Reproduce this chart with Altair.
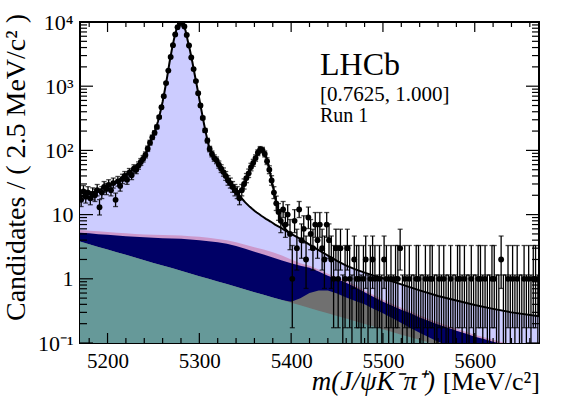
import altair as alt
import numpy as np
import pandas as pd

# ---------------------------------------------------------------------------
# Histogram: m(J/psi K- pi+) in 2.5 MeV bins from 5170 to 5670 MeV
# ---------------------------------------------------------------------------
mass_lo, mass_hi, bin_width = 5170.0, 5670.0, 2.5

counts = [
    17, 23, 19, 22, 18, 21, 20, 24, 13, 22,
    27, 25, 29, 24, 31, 17, 33, 28, 36, 40,
    35, 45, 41, 52, 50, 58, 66, 74, 85, 106,
    132, 160, 188, 232, 330, 470, 700, 1120, 1750, 2850,
    4350, 6400, 8300, 9650, 9750, 8500, 6300, 4300, 2800, 1850,
    1200, 780, 500, 320, 205, 142, 105, 88, 76, 70,
    60, 52, 46, 40, 34, 31, 27, 24, 22, 18,
    24, 30, 37, 44, 55, 64, 76, 92, 104, 101,
    88, 68, 50, 34, 22, 15, 11, 8, 12, 7,
    10, 5, 1, 8, 3, 12, 4, 6, 2, 9,
    5, 3, 7, 4, 7, 3, 2, 7, 4, 2,
    1, 3, 1, 3, 0, 1, 3, 1, 0, 2,
    1, 1, 0, 1, 2, 0, 1, 2, 1, 0,
    1, 0, 2, 1, 0, 1, 0, 1, 1, 3,
    0, 1, 0, 1, 0, 0, 1, 1, 0, 0,
    1, 0, 1, 1, 0, 0, 1, 0, 1, 0,
    0, 1, 0, 0, 1, 1, 0, 1, 0, 0,
    1, 0, 0, 1, 1, 0, 1, 0, 0, 1,
    1, 0, 0, 2, 0, 0, 1, 0, 1, 0,
    1, 0, 0, 1, 0, 1, 0, 1, 1, 0,
]

# 68% Poisson (Garwood) intervals for small counts
pois_lo = [0.0, 0.173, 0.708, 1.367, 2.086, 2.840, 3.620, 4.419, 5.232, 6.057, 6.891]
pois_hi = [1.148, 3.300, 4.638, 5.918, 7.163, 8.382, 9.584, 10.77, 11.95, 13.11, 14.27]

# ---------------------------------------------------------------------------
# Fit components (cumulative stack boundaries)
# ---------------------------------------------------------------------------
bkg_mass = list(range(5170, 5671, 10))
teal_top = [3.80, 3.46, 3.14, 2.86, 2.60, 2.36, 2.15, 1.95, 1.77, 1.61,
            1.47, 1.33, 1.21, 1.10, 1.00, 0.91, 0.83, 0.75, 0.68, 0.62,
            0.565, 0.513, 0.467, 0.425, 0.386, 0.351, 0.319, 0.290, 0.264, 0.240,
            0.218, 0.198, 0.180, 0.164, 0.149, 0.135, 0.123, 0.112, 0.102, 0.092,
            0.084, 0.076, 0.069, 0.063, 0.057, 0.052, 0.047, 0.043, 0.039, 0.035,
            0.032]
gray_top = [3.80, 3.46, 3.14, 2.86, 2.60, 2.36, 2.15, 1.95, 1.77, 1.61,
            1.47, 1.33, 1.21, 1.10, 1.00, 0.91, 0.83, 0.75, 0.68, 0.62,
            0.565, 0.513, 0.467, 0.44, 0.50, 0.60, 0.66, 0.66, 0.59, 0.51,
            0.45, 0.40, 0.34, 0.29, 0.245, 0.205, 0.172, 0.145, 0.123, 0.105,
            0.094, 0.083, 0.074, 0.066, 0.059, 0.054, 0.049, 0.045, 0.041, 0.037,
            0.034]
navy_top = [5.2, 5.1, 4.95, 4.85, 4.72, 4.6, 4.5, 4.42, 4.35, 4.3,
            4.25, 4.2, 4.1, 4.0, 3.85, 3.7, 3.5, 3.25, 2.95, 2.65,
            2.4, 2.15, 1.93, 1.75, 1.6, 1.48, 1.3, 1.12, 0.98, 0.87,
            0.74, 0.62, 0.52, 0.44, 0.38, 0.33, 0.29, 0.25, 0.22, 0.195,
            0.175, 0.155, 0.14, 0.125, 0.115, 0.105, 0.097, 0.09, 0.083, 0.077,
            0.071]
pink_top = [5.75, 5.62, 5.48, 5.36, 5.22, 5.1, 5.0, 4.92, 4.86, 4.82,
            4.78, 4.72, 4.62, 4.5, 4.35, 4.18, 3.98, 3.72, 3.4, 3.1,
            2.85, 2.6, 2.3, 2.0, 1.75, 1.6, 1.4, 1.2, 1.05, 0.93,
            0.79, 0.66, 0.56, 0.47, 0.41, 0.355, 0.31, 0.27, 0.235, 0.21,
            0.187, 0.166, 0.15, 0.134, 0.123, 0.112, 0.103, 0.096, 0.089, 0.082,
            0.076]

# B0 signal stacked on the backgrounds (total without the Bs peak)
sig_mass = [5170, 5180, 5190, 5200, 5210, 5220, 5230, 5235, 5240,
            5242.5, 5245, 5247.5, 5250, 5252.5, 5255, 5257.5, 5260, 5262.5, 5265,
            5267.5, 5270, 5272.5, 5275, 5277.5, 5280, 5282.5, 5285, 5287.5, 5290,
            5292.5, 5295, 5297.5, 5300, 5302.5, 5305, 5307.5, 5310, 5312.5, 5315,
            5317.5, 5320, 5325, 5330, 5335,
            5340, 5342.5, 5345, 5347.5, 5350, 5352.5, 5355, 5357.5, 5360, 5362.5,
            5365, 5367.5, 5370, 5372.5, 5375, 5377.5, 5380, 5382.5, 5385, 5387.5,
            5390, 5392.5, 5395,
            5400, 5410, 5420, 5430, 5440, 5450, 5460, 5470, 5480, 5490, 5500,
            5520, 5540, 5560, 5580, 5600, 5620, 5640, 5670]
sig_top = [19, 21, 24, 27.5, 33, 42, 55, 64, 78,
           93, 121, 147, 179, 218, 285, 395, 573, 890, 1410,
           2340, 3680, 5500, 7600, 9100, 9900, 9500, 7300, 5000, 3500,
           2340, 1510, 980, 630, 405, 262, 176, 122, 98, 84,
           75, 67, 51, 38, 29.5,
           23, 20.5, 18.5, 17, 15.5, 14.3, 13.2, 12.3, 11.5, 10.8,
           10.2, 9.6, 9.1, 8.6, 8.2, 7.8, 7.4, 7.0, 6.7, 6.4,
           6.1, 5.8, 5.5,
           5.0, 4.2, 3.4, 2.8, 2.3, 1.9, 1.6, 1.4, 1.25, 1.12, 1.02,
           0.82, 0.66, 0.54, 0.46, 0.39, 0.34, 0.30, 0.26]

# Total fit across the Bs peak
bs_mass = [5337.5, 5340, 5342.5, 5345, 5347.5, 5350, 5352.5, 5355, 5357.5, 5360,
           5362.5, 5365, 5367.5, 5370, 5372.5, 5375, 5377.5, 5380, 5382.5, 5385,
           5387.5, 5390, 5392.5, 5395, 5397.5]
bs_total = [26.2, 23.5, 22, 23, 27, 33, 40, 48, 57, 68,
            83, 98, 106, 99, 82, 61, 42, 28, 18.5, 12.5,
            9.0, 7.2, 6.3, 5.7, 5.25]

# Axis ticks and labels
x_tick_values = [5200, 5300, 5400, 5500, 5600]
y_tick_values = [0.1, 1, 10, 100, 1000, 10000]
y_tick_labels = ["10\u207b\u00b9", "1", "10", "10\u00b2", "10\u00b3", "10\u2074"]

# Colours of the stacked components
col_sig, col_pink, col_navy, col_gray, col_teal = "#ccccff", "#cc99cc", "#000066", "#707070", "#669999"

W, H = 459, 321
FONT = "Liberation Serif"
FLOOR = 0.05

# ---------------------------------------------------------------------------
# Tables
# ---------------------------------------------------------------------------
centers = mass_lo + bin_width * (np.arange(len(counts)) + 0.5)


def interval(n):
    if n < len(pois_lo):
        return pois_lo[n], pois_hi[n]
    s = np.sqrt(n + 0.25)
    return n + 0.5 - s, n + 0.5 + s


lo_hi = [interval(n) for n in counts]
hist = pd.DataFrame({
    "m": centers,
    "v": [float(n) for n in counts],
    "lo": [lo if n > 0 else FLOOR for (lo, _), n in zip(lo_hi, counts)],
    "hi": [hi for _, hi in lo_hi],
})
hist["m_l"] = hist["m"] - bin_width / 2
hist["m_r"] = hist["m"] + bin_width / 2
filled = hist[hist["v"] > 0]

caps = pd.concat([
    pd.DataFrame({"m": filled["m"], "v": filled["lo"]}),
    pd.DataFrame({"m": hist["m"], "v": hist["hi"]}),
])

bkg = pd.DataFrame({"m": bkg_mass, "teal": teal_top, "gray": gray_top,
                    "navy": navy_top, "pink": pink_top, "floor": FLOOR})
sig = pd.DataFrame({"m": sig_mass, "v": sig_top, "floor": FLOOR})
bs = pd.DataFrame({"m": bs_mass, "v": bs_total})

minor_x = [m for m in range(5180, 5670, 20) if m not in x_tick_values]
minor_y = [k * 10.0 ** d for d in range(-1, 4) for k in range(2, 10)]
xt_major = pd.DataFrame({"m": x_tick_values})
xt_minor = pd.DataFrame({"m": minor_x})
yt_major = pd.DataFrame({"v": y_tick_values})
yt_minor = pd.DataFrame({"v": minor_y})

# ---------------------------------------------------------------------------
# Shared scales / axes
# ---------------------------------------------------------------------------
xscale = alt.Scale(domain=[mass_lo, mass_hi], nice=False, zero=False)
yscale = alt.Scale(type="log", domain=[0.1, 10000], nice=False)

label_expr = "[" + ",".join("'" + s + "'" for s in y_tick_labels) + "][round(log(datum.value)/LN10)+1]"

xaxis = alt.Axis(values=x_tick_values, format="d", ticks=False, domain=False, grid=False,
                 labelFont=FONT, labelFontSize=21, labelPadding=7, labelColor="black",
                 labelFlush=False, labelOverlap=False, title=None)
yaxis = alt.Axis(values=y_tick_values, labelExpr=label_expr, ticks=False, domain=False,
                 grid=False, labelFont=FONT, labelFontSize=22, labelPadding=7,
                 labelColor="black", labelFlush=False, labelOverlap=False, title=None)


def X(f):
    return alt.X(f"{f}:Q", scale=xscale, axis=xaxis)


def Y(f):
    return alt.Y(f"{f}:Q", scale=yscale, axis=yaxis)


def band(col, color, data):
    return alt.Chart(data).mark_area(color=color, clip=True, opacity=1).encode(
        x=X("m"), y=Y(col), y2=alt.Y2("floor"))


layers = [
    band("v", col_sig, sig),
    band("pink", col_pink, bkg),
    band("navy", col_navy, bkg),
    band("gray", col_gray, bkg),
    band("teal", col_teal, bkg),
    alt.Chart(sig).mark_line(color="black", strokeWidth=2, clip=True).encode(x=X("m"), y=Y("v")),
    alt.Chart(bs).mark_line(color="black", strokeWidth=2, clip=True).encode(x=X("m"), y=Y("v")),
    # error bars
    alt.Chart(hist).mark_rule(color="black", strokeWidth=1.3, clip=True).encode(
        x=X("m"), y=Y("lo"), y2=alt.Y2("hi")),
    alt.Chart(caps).mark_tick(color="black", orient="horizontal", size=5, thickness=1.3,
                              clip=True).encode(x=X("m"), y=Y("v")),
    alt.Chart(filled).mark_rule(color="black", strokeWidth=1.3, clip=True).encode(
        x=X("m_l"), x2=alt.X2("m_r"), y=Y("v")),
    alt.Chart(filled).mark_circle(color="black", size=34, opacity=1, clip=True).encode(
        x=X("m"), y=Y("v")),
    # frame ticks, pointing inwards on all four sides
    alt.Chart(xt_major).mark_rule(color="black", strokeWidth=1.2).encode(
        x=X("m"), y=alt.value(H), y2=alt.value(H - 10)),
    alt.Chart(xt_minor).mark_rule(color="black", strokeWidth=1.2).encode(
        x=X("m"), y=alt.value(H), y2=alt.value(H - 5)),
    alt.Chart(xt_major).mark_rule(color="black", strokeWidth=1.2).encode(
        x=X("m"), y=alt.value(0), y2=alt.value(10)),
    alt.Chart(xt_minor).mark_rule(color="black", strokeWidth=1.2).encode(
        x=X("m"), y=alt.value(0), y2=alt.value(5)),
    alt.Chart(yt_major).mark_rule(color="black", strokeWidth=1.2).encode(
        y=Y("v"), x=alt.value(0), x2=alt.value(13)),
    alt.Chart(yt_minor).mark_rule(color="black", strokeWidth=1.2).encode(
        y=Y("v"), x=alt.value(0), x2=alt.value(7)),
    alt.Chart(yt_major).mark_rule(color="black", strokeWidth=1.2).encode(
        y=Y("v"), x=alt.value(W), x2=alt.value(W - 13)),
    alt.Chart(yt_minor).mark_rule(color="black", strokeWidth=1.2).encode(
        y=Y("v"), x=alt.value(W), x2=alt.value(W - 7)),
]


def label(text, x, y, size, **kw):
    return alt.Chart(pd.DataFrame({"t": [text]})).mark_text(
        font=FONT, fontSize=size, color="black", **kw).encode(
        x=alt.value(x), y=alt.value(y), text="t:N")


layers += [
    label("LHCb", 240, 53, 32, align="left", baseline="alphabetic"),
    label("[0.7625, 1.000]", 240, 79, 21, align="left", baseline="alphabetic"),
    label("Run 1", 240, 100, 20, align="left", baseline="alphabetic"),
    label("Candidates / ( 2.5 MeV/c\u00b2 )", -55, -8, 28, align="right",
          baseline="alphabetic", angle=270),
    label("[MeV/c\u00b2]", W + 1, 368, 26, align="right", baseline="alphabetic"),
    label("m(J/\u03c8K\u207b\u03c0\u207a)", W - 104, 368, 27, align="right",
          baseline="alphabetic", fontStyle="italic"),
]

chart = alt.layer(*layers).properties(
    width=W, height=H,
    autosize=alt.AutoSizeParams(type="none"),
    padding={"left": 80, "top": 22, "right": 29, "bottom": 66},
    background="white",
).configure_view(stroke="black", strokeWidth=2)

chart.save("out.html", embed_options={"renderer": "svg", "actions": False})
